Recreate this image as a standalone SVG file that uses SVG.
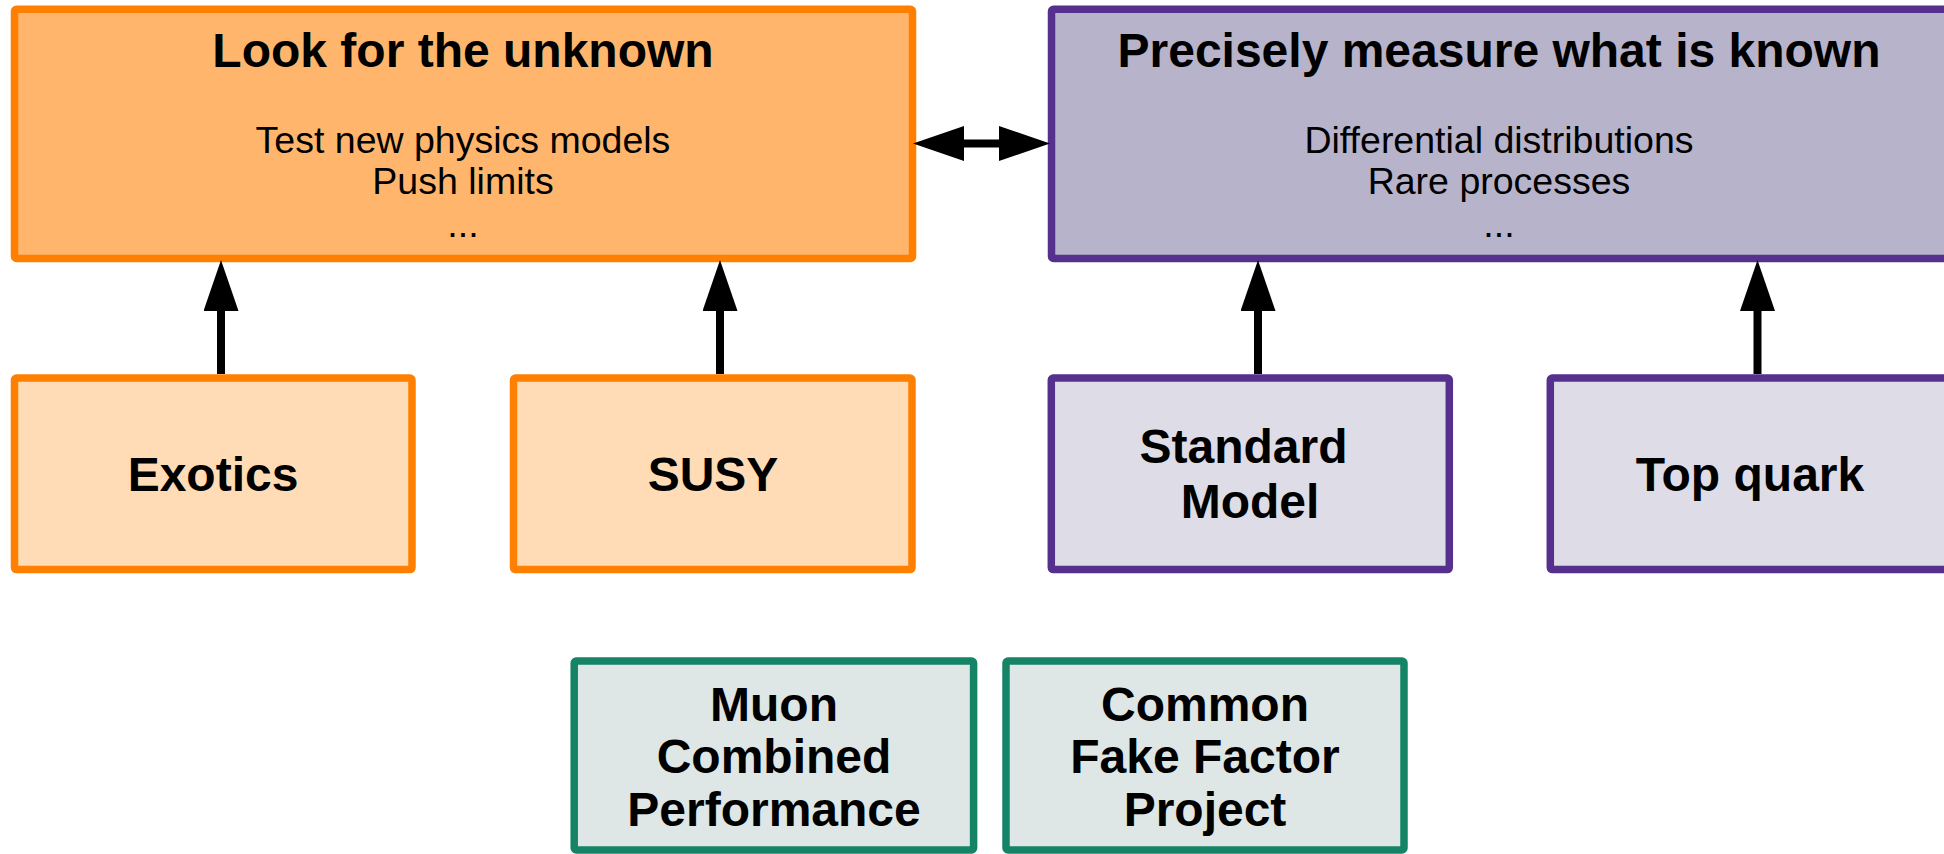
<svg xmlns="http://www.w3.org/2000/svg" width="1944" height="854" viewBox="0 0 1944 854">
  <style>
    .box { stroke-width: 7.5; stroke-linejoin: round; }
    .orange-main { fill: #FFB66C; stroke: #FF8000; }
    .orange-sub { fill: #FFDBB6; stroke: #FF8000; }
    .indigo-main { fill: #B7B3CA; stroke: #55308D; }
    .indigo-sub { fill: #DEDCE6; stroke: #55308D; }
    .teal { fill: #DEE6E6; stroke: #158466; }
    .title { font-family: "Liberation Sans", Arial, sans-serif; font-weight: bold; font-size: 48px; fill: #000; text-anchor: middle; }
    .body { font-family: "Liberation Sans", Arial, sans-serif; font-size: 37.5px; fill: #000; text-anchor: middle; }
    .label { font-family: "Liberation Sans", Arial, sans-serif; font-weight: bold; font-size: 48px; fill: #000; text-anchor: middle; }
    .link { stroke: #000; stroke-width: 8; fill: none; }
  </style>
  <defs>
    <marker id="head" markerUnits="userSpaceOnUse" viewBox="0 0 51 35" markerWidth="51" markerHeight="35" refX="0" refY="17.5" orient="auto-start-reverse">
      <path d="M0,0 L51,17.5 L0,35 Z" fill="#000"/>
    </marker>
  </defs>

  <rect width="1944" height="854" fill="#fff"/>

  <g id="look-for-unknown">
    <rect class="box orange-main" x="14.5" y="9.3" width="898" height="249.2" rx="2"/>
    <text class="title" x="463" y="66.7">Look for the unknown</text>
    <text class="body" x="463" y="152.7">Test new physics models</text>
    <text class="body" x="463" y="194.3">Push limits</text>
    <text class="body" x="463" y="236.7">...</text>
  </g>

  <g id="measure-known">
    <rect class="box indigo-main" x="1051.5" y="9.3" width="899" height="249.2" rx="2"/>
    <text class="title" x="1499" y="66.7">Precisely measure what is known</text>
    <text class="body" x="1499" y="152.7">Differential distributions</text>
    <text class="body" x="1499" y="194.3">Rare processes</text>
    <text class="body" x="1499" y="236.7">...</text>
  </g>

  <g id="exotics">
    <rect class="box orange-sub" x="14.5" y="378" width="397.5" height="191.6" rx="2"/>
    <text class="label" x="213" y="490.7">Exotics</text>
  </g>

  <g id="susy">
    <rect class="box orange-sub" x="513.5" y="378" width="398.5" height="191.6" rx="2"/>
    <text class="label" x="713" y="490.7">SUSY</text>
  </g>

  <g id="standard-model">
    <rect class="box indigo-sub" x="1051.3" y="378" width="398" height="191.6" rx="2"/>
    <text class="label" x="1243.5" y="463.3">Standard</text>
    <text class="label" x="1250" y="517.7">Model</text>
  </g>

  <g id="top-quark">
    <rect class="box indigo-sub" x="1550.3" y="378" width="398" height="191.6" rx="2"/>
    <text class="label" x="1750" y="490.7">Top quark</text>
  </g>

  <g id="muon-cp">
    <rect class="box teal" x="574.2" y="661" width="399.4" height="189" rx="2"/>
    <text class="label" x="774" y="721">Muon</text>
    <text class="label" x="774" y="773.3">Combined</text>
    <text class="label" x="774" y="825.7">Performance</text>
  </g>

  <g id="fake-factor">
    <rect class="box teal" x="1006" y="661" width="398" height="189" rx="2"/>
    <text class="label" x="1205" y="721">Common</text>
    <text class="label" x="1205" y="773.3">Fake Factor</text>
    <text class="label" x="1205" y="825.7">Project</text>
  </g>

  <g id="connectors">
    <line class="link" x1="221" y1="374" x2="221" y2="311" marker-end="url(#head)"/>
    <line class="link" x1="720" y1="374" x2="720" y2="311" marker-end="url(#head)"/>
    <line class="link" x1="1258" y1="374" x2="1258" y2="311" marker-end="url(#head)"/>
    <line class="link" x1="1757.5" y1="374" x2="1757.5" y2="311" marker-end="url(#head)"/>
    <line class="link" x1="964" y1="143.5" x2="999" y2="143.5" marker-start="url(#head)" marker-end="url(#head)"/>
  </g>
</svg>
